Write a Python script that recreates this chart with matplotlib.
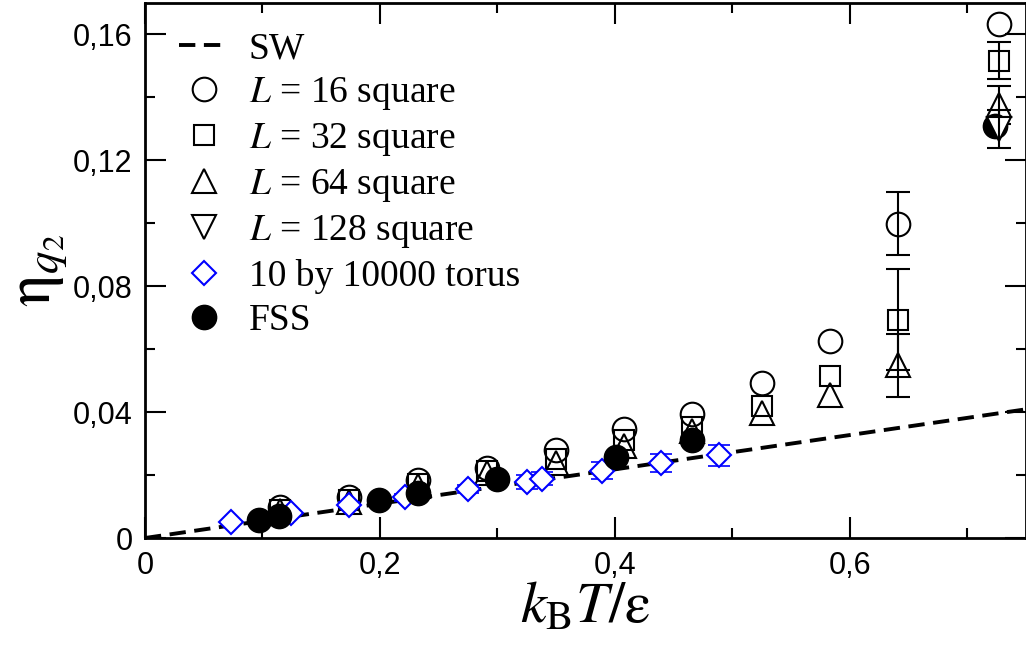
import matplotlib
matplotlib.use('Agg')
from matplotlib import pyplot as plt
from matplotlib.lines import Line2D
from matplotlib.ticker import MultipleLocator, FuncFormatter

plt.rcParams['mathtext.fontset'] = 'stix'
plt.rcParams['font.family'] = ['Liberation Sans', 'DejaVu Sans']

# Spin-wave line
sw_x = [0.0, 0.75]
sw_y = [0.0, 0.0409]

# Square lattices (same temperatures for every size)
lat_t = [0.115, 0.174, 0.232, 0.291, 0.35, 0.408, 0.466, 0.525, 0.583, 0.641, 0.727]
l16_eta = [0.0099, 0.0131, 0.0184, 0.0221, 0.0279, 0.0345, 0.0394, 0.0494, 0.0626, 0.0999, 0.1634]
l16_err = [0, 0, 0, 0, 0, 0, 0, 0, 0, 0.010, 0]
l32_eta = [0.0090, 0.0120, 0.0172, 0.0214, 0.0250, 0.0313, 0.0353, 0.0420, 0.0514, 0.0694, 0.1517]
l32_err = [0, 0, 0, 0, 0, 0, 0, 0, 0, 0.016, 0.006]
l64_eta = [0.0085, 0.0115, 0.0165, 0.0207, 0.0238, 0.0292, 0.0340, 0.0398, 0.0454, 0.0549, 0.1375]
l64_err = [0, 0, 0, 0, 0, 0, 0, 0, 0, 0.010, 0.006]
l128_t = [0.727]
l128_eta = [0.1300]
l128_err = [0.006]

# 10 by 10000 torus
torus_t = [0.073, 0.124, 0.174, 0.221, 0.275, 0.325, 0.338, 0.389, 0.439, 0.489]
torus_eta = [0.0052, 0.0079, 0.0105, 0.0129, 0.0156, 0.0179, 0.0189, 0.0214, 0.0239, 0.0263]
torus_err = [0.0002, 0.0004, 0.0008, 0.0012, 0.0014, 0.0022, 0.0022, 0.0026, 0.0029, 0.0034]

# Finite size scaling
fss_t = [0.097, 0.114, 0.199, 0.232, 0.300, 0.401, 0.466, 0.724]
fss_eta = [0.0058, 0.0070, 0.0121, 0.0142, 0.0186, 0.0258, 0.0311, 0.1308]


def draw_errors(ax, t, eta, err, color, width, cap, zorder):
    """
    Draw error bars only for the points that have a visible error
    """
    keep = [i for i in range(len(err)) if err[i] > 0.0005]
    if not keep:
        return
    ax.errorbar([t[i] for i in keep], [eta[i] for i in keep],
                yerr=[err[i] for i in keep], fmt='none', ecolor=color,
                elinewidth=width, capsize=cap, capthick=width, zorder=zorder)


fig = plt.figure(figsize=(10.26, 6.57), dpi=100)
ax = fig.add_axes([0.1413, 0.1811, 0.8587, 0.8143])

# SW line
ax.plot(sw_x, sw_y, color='black', lw=2.8, linestyle=(0, (4.2, 2.2)), zorder=2)

# open markers for the square lattices
open_kw = dict(mfc='none', mec='black', mew=1.5, linestyle='none', zorder=3)
ax.plot(lat_t, l16_eta, marker='o', ms=17, **open_kw)
ax.plot(lat_t, l32_eta, marker='s', ms=14, **open_kw)
ax.plot(lat_t, l64_eta, marker='^', ms=17, **open_kw)
draw_errors(ax, lat_t, l16_eta, l16_err, 'black', 1.5, 8.5, 3)
draw_errors(ax, lat_t, l32_eta, l32_err, 'black', 1.5, 8.5, 3)
draw_errors(ax, lat_t, l64_eta, l64_err, 'black', 1.5, 8.5, 3)

# torus data, error bars hidden inside the diamonds
draw_errors(ax, torus_t, torus_eta, torus_err, 'blue', 1.2, 8, 4)
ax.plot(torus_t, torus_eta, marker='D', ms=12, mfc='white', mec='blue', mew=1.5,
        linestyle='none', zorder=4.5)

# FSS points drawn over the open markers
ax.plot(fss_t, fss_eta, marker='o', ms=17.5, color='black', linestyle='none', zorder=5)

# L = 128 sits over the FSS point at the highest temperature
ax.plot(l128_t, l128_eta, marker='v', ms=17, mfc='white', mec='black', mew=1.5,
        linestyle='none', zorder=6)
draw_errors(ax, l128_t, l128_eta, l128_err, 'black', 1.5, 8.5, 6)

# axes ranges and ticks
ax.set_xlim(0, 0.75)
ax.set_ylim(0, 0.17)
ax.xaxis.set_major_locator(MultipleLocator(0.2))
ax.xaxis.set_minor_locator(MultipleLocator(0.1))
ax.yaxis.set_major_locator(MultipleLocator(0.04))
ax.yaxis.set_minor_locator(MultipleLocator(0.02))

comma = FuncFormatter(lambda v, pos: f'{v:g}'.replace('.', ','))
ax.xaxis.set_major_formatter(comma)
ax.yaxis.set_major_formatter(comma)

ax.tick_params(which='both', direction='in', top=True, right=True, width=1.5, labelsize=22)
ax.tick_params(which='major', length=15, pad=9)
ax.tick_params(which='minor', length=7)
for spine in ax.spines.values():
    spine.set_linewidth(2)

ax.set_xlabel(r'$k_{\mathrm{B}}T/\mathrm{\varepsilon}$', fontsize=42, labelpad=0)
ax.set_ylabel(r'$\mathrm{\eta}_{q_2}$', fontsize=46, labelpad=2)

# legend with marker-only handles
labels = ['SW', '$L$ = 16 square', '$L$ = 32 square', '$L$ = 64 square',
          '$L$ = 128 square', '10 by 10000 torus', 'FSS']
handles = [
    Line2D([], [], color='black', lw=2.8, linestyle=(0, (4.2, 2.2))),
    Line2D([], [], marker='o', ms=17, **open_kw),
    Line2D([], [], marker='s', ms=14, **open_kw),
    Line2D([], [], marker='^', ms=17, **open_kw),
    Line2D([], [], marker='v', ms=17, **open_kw),
    Line2D([], [], marker='D', ms=12, mfc='none', mec='blue', mew=1.5, linestyle='none'),
    Line2D([], [], marker='o', ms=17.5, color='black', linestyle='none'),
]
ax.legend(handles, labels, loc='upper left', frameon=False,
          prop={'family': 'Liberation Serif', 'size': 27}, handlelength=1.3,
          handletextpad=0.55, labelspacing=0.24, borderaxespad=0.3,
          bbox_to_anchor=(0.009, 0.995))

fig.savefig('out.png', dpi=100)
